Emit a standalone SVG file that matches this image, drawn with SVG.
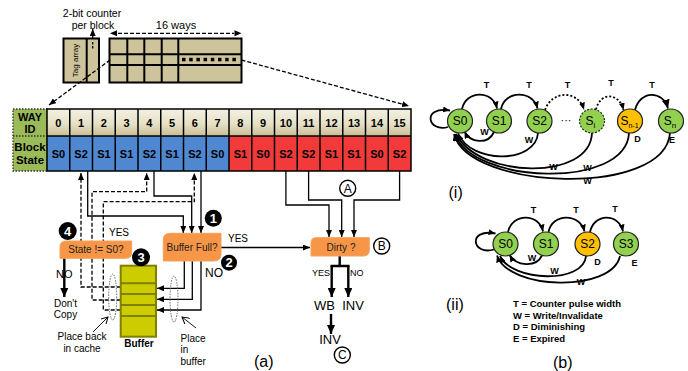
<svg xmlns="http://www.w3.org/2000/svg" width="688" height="371" viewBox="0 0 688 371">
  <style>
    text { font-family: "Liberation Sans", Arial, sans-serif; fill: #000; }
    .b { font-weight: bold; }
    .cell { stroke: #000; stroke-width: 1.5; }
    .hdr { fill: url(#hdrGrad); }
    .blue { fill: #4f88d0; }
    .red { fill: #f23a3a; }
    .num { font-size: 11px; font-weight: bold; text-anchor: middle; }
    .ln { fill: none; stroke: #000; stroke-width: 1.3; }
    .dash { fill: none; stroke: #000; stroke-width: 1.3; stroke-dasharray: 4 2; }
    .thick { fill: none; stroke: #000; stroke-width: 2.4; }
    .dec { fill: #f79646; stroke: #f4a15c; stroke-width: 1; }
    .dt { font-size: 10px; text-anchor: middle; fill: #222; }
    .badge { fill: #000; }
    .bt { fill: #fff; font-size: 13px; font-weight: bold; text-anchor: middle; }
    .circ { fill: none; stroke: #000; stroke-width: 1.4; }
    .ct { font-size: 12px; text-anchor: middle; }
    .tag { fill: #cec49b; stroke: #000; stroke-width: 2; }
    .node { fill: #92d050; stroke: #222; stroke-width: 1.2; }
    .nodeo { fill: #ffc000; stroke: #222; stroke-width: 1.2; }
    .nt { font-size: 12px; text-anchor: middle; }
    .arc { fill: none; stroke: #000; stroke-width: 1.8; }
    .arcd { fill: none; stroke: #000; stroke-width: 1.8; stroke-dasharray: 2 2; }
    .lab { font-size: 9px; font-weight: bold; text-anchor: middle; }
    .leg { font-size: 9.5px; font-weight: bold; }
    .cap { font-size: 16px; }
  </style>
  <defs>
    <linearGradient id="hdrGrad" x1="0" y1="0" x2="0" y2="1">
      <stop offset="0" stop-color="#f4f1e3"/>
      <stop offset="0.55" stop-color="#e6e0c6"/>
      <stop offset="1" stop-color="#c8be96"/>
    </linearGradient>
    <marker id="ah" markerUnits="userSpaceOnUse" markerWidth="7" markerHeight="6" refX="7" refY="3" orient="auto">
      <path d="M0,0 L7,3 L0,6 z" fill="#000"/>
    </marker>
    <marker id="ahL" markerUnits="userSpaceOnUse" markerWidth="9" markerHeight="8" refX="9" refY="4" orient="auto">
      <path d="M0,0 L9,4 L0,8 z" fill="#000"/>
    </marker>
    <marker id="ahO" markerUnits="userSpaceOnUse" markerWidth="8" markerHeight="8" refX="7" refY="4" orient="auto">
      <path d="M0,0 L7,4 L0,8" fill="none" stroke="#000" stroke-width="1"/>
    </marker>
  </defs>

  <!-- cache set: tag array and 16-way data array -->
  <g id="tag-array">
    <rect class="tag" x="63.5" y="38.5" width="35.5" height="44"/>
    <line x1="86.7" y1="38.5" x2="86.7" y2="82.5" stroke="#000" stroke-width="2"/>
    <line x1="92.7" y1="42" x2="92.7" y2="49" stroke="#000" stroke-width="1.3" stroke-dasharray="2.5 1.5"/>
    <text x="78" y="60.5" font-size="8" text-anchor="middle" transform="rotate(-90 78 60.5)">Tag array</text>
  </g>
  <g id="counter-label">
    <text x="92" y="17" font-size="10.5" text-anchor="middle">2-bit counter</text>
    <text x="93" y="28.5" font-size="10.5" text-anchor="middle">per block</text>
    <line x1="92.7" y1="38" x2="92.7" y2="29" class="ln" marker-end="url(#ah)"/>
  </g>
  <g id="data-array">
    <rect class="tag" x="109.5" y="38.5" width="132" height="44"/>
    <line x1="109.5" y1="54.3" x2="241.5" y2="54.3" stroke="#000" stroke-width="2"/>
    <line x1="109.5" y1="65" x2="241.5" y2="65" stroke="#000" stroke-width="2"/>
    <g stroke="#000" stroke-width="2">
      <line x1="127.3" y1="38.5" x2="127.3" y2="82.5"/>
      <line x1="144.3" y1="38.5" x2="144.3" y2="82.5"/>
      <line x1="161.7" y1="38.5" x2="161.7" y2="82.5"/>
      <line x1="178.3" y1="38.5" x2="178.3" y2="82.5"/>
    </g>
    <g fill="#000">
      <rect x="182" y="57.8" width="3.5" height="3.5"/>
      <rect x="189.2" y="57.8" width="3.5" height="3.5"/>
      <rect x="196.4" y="57.8" width="3.5" height="3.5"/>
      <rect x="203.6" y="57.8" width="3.5" height="3.5"/>
      <rect x="210.8" y="57.8" width="3.5" height="3.5"/>
      <rect x="218" y="57.8" width="3.5" height="3.5"/>
      <rect x="225.2" y="57.8" width="3.5" height="3.5"/>
      <rect x="232.4" y="57.8" width="3.5" height="3.5"/>
    </g>
    <text x="176" y="29" font-size="11" text-anchor="middle">16 ways</text>
    <line x1="118" y1="33.3" x2="234" y2="33.3" class="dash"/>
    <path d="M110,33.3 l7,-3 v6 z M241.5,33.3 l-7,-3 v6 z" fill="#000"/>
  </g>

  <!-- expansion of one set into the way table -->
  <g id="zoom-lines">
    <line x1="110" y1="60" x2="49" y2="105" class="dash" marker-end="url(#ah)"/>
    <line x1="241.5" y1="60" x2="409" y2="106" class="dash" marker-end="url(#ah)"/>
  </g>

  <!-- way table -->
  <g id="way-table">
    <rect x="13" y="109" width="34" height="62" fill="#9bbb59" stroke="#333" stroke-width="1.3" stroke-dasharray="1.5 1.5"/>
    <line x1="13" y1="136" x2="47" y2="136" stroke="#333" stroke-width="1.3" stroke-dasharray="1.5 1.5"/>
    <text x="30" y="120.5" font-size="11" class="b" text-anchor="middle">WAY</text>
    <text x="30" y="132.5" font-size="11" class="b" text-anchor="middle">ID</text>
    <text x="30" y="151" font-size="11.5" class="b" text-anchor="middle">Block</text>
    <text x="30" y="164" font-size="11.5" class="b" text-anchor="middle">State</text>

    <rect class="hdr" x="47" y="109" width="364" height="27"/>
    <rect class="blue" x="47" y="136" width="182" height="35"/>
    <rect class="red" x="229" y="136" width="182" height="35"/>
    <g class="cell" fill="none">
      <rect x="47" y="109" width="364" height="62"/>
      <line x1="47" y1="136" x2="411" y2="136"/>
      <line x1="69.75" y1="109" x2="69.75" y2="171"/>
      <line x1="92.5" y1="109" x2="92.5" y2="171"/>
      <line x1="115.25" y1="109" x2="115.25" y2="171"/>
      <line x1="138" y1="109" x2="138" y2="171"/>
      <line x1="160.75" y1="109" x2="160.75" y2="171"/>
      <line x1="183.5" y1="109" x2="183.5" y2="171"/>
      <line x1="206.25" y1="109" x2="206.25" y2="171"/>
      <line x1="229" y1="109" x2="229" y2="171"/>
      <line x1="251.75" y1="109" x2="251.75" y2="171"/>
      <line x1="274.5" y1="109" x2="274.5" y2="171"/>
      <line x1="297.25" y1="109" x2="297.25" y2="171"/>
      <line x1="320" y1="109" x2="320" y2="171"/>
      <line x1="342.75" y1="109" x2="342.75" y2="171"/>
      <line x1="365.5" y1="109" x2="365.5" y2="171"/>
      <line x1="388.25" y1="109" x2="388.25" y2="171"/>
    </g>
    <g class="num">
      <text x="58.4" y="127">0</text><text x="81.1" y="127">1</text><text x="103.9" y="127">2</text><text x="126.6" y="127">3</text>
      <text x="149.4" y="127">4</text><text x="172.1" y="127">5</text><text x="194.9" y="127">6</text><text x="217.6" y="127">7</text>
      <text x="240.4" y="127">8</text><text x="263.1" y="127">9</text><text x="285.9" y="127">10</text><text x="308.6" y="127">11</text>
      <text x="331.4" y="127">12</text><text x="354.1" y="127">13</text><text x="376.9" y="127">14</text><text x="399.6" y="127">15</text>
      <text x="58.4" y="158">S0</text><text x="81.1" y="158">S2</text><text x="103.9" y="158">S1</text><text x="126.6" y="158">S1</text>
      <text x="149.4" y="158">S2</text><text x="172.1" y="158">S1</text><text x="194.9" y="158">S2</text><text x="217.6" y="158">S0</text>
      <text x="240.4" y="158">S1</text><text x="263.1" y="158">S0</text><text x="285.9" y="158">S2</text><text x="308.6" y="158">S2</text>
      <text x="331.4" y="158">S1</text><text x="354.1" y="158">S1</text><text x="376.9" y="158">S0</text><text x="399.6" y="158">S2</text>
    </g>
  </g>

  <!-- connectors of the eviction flow -->
  <g id="connectors">
    <path class="ln" d="M87.7,171 V216 H183.3 V233" marker-end="url(#ah)"/>
    <path class="ln" d="M154,171 V196 H191.7 V233" marker-end="url(#ah)"/>
    <path class="ln" d="M201,171 V233" marker-end="url(#ah)"/>

    <path class="dash" d="M120.7,287 H81 V173" marker-end="url(#ah)"/>
    <path class="dash" d="M120.7,300 H92 V191.7 H146.7 V173" marker-end="url(#ah)"/>
    <path class="dash" d="M120.7,310 H103.3 V201.7 H194.3 V173" marker-end="url(#ah)"/>

    <path class="ln" stroke-width="2" d="M184.3,261 V288.3 H157" marker-end="url(#ah)"/>
    <path class="ln" d="M192.3,261 V299.3 H157" marker-end="url(#ah)"/>
    <path class="ln" d="M201,261 V310 H157" marker-end="url(#ah)"/>

    <path class="ln" stroke-width="1.6" d="M221,247.5 H310" marker-end="url(#ah)"/>
    <path class="thick" d="M64.3,258 V297" marker-end="url(#ahL)"/>

    <path class="ln" d="M285.9,171 V205 H329 V237" marker-end="url(#ah)"/>
    <path class="ln" d="M308.6,171 V200 H341.7 V237" marker-end="url(#ah)"/>
    <path class="ln" d="M399.6,171 V200 H354 V237" marker-end="url(#ah)"/>

    <path class="thick" stroke-width="3" d="M339.7,256 V266 M330.5,266 H349.5"/>
    <path class="thick" d="M331.7,266 V297" marker-end="url(#ahL)"/>
    <path class="thick" d="M348.3,266 V297" marker-end="url(#ahL)"/>
    <path class="thick" d="M331,314 V334" marker-end="url(#ahL)"/>

    <ellipse cx="112.7" cy="297" rx="4" ry="23" fill="none" stroke="#555" stroke-width="0.9" stroke-dasharray="1.5 1.2"/>
    <ellipse cx="174" cy="299" rx="4" ry="23" fill="none" stroke="#555" stroke-width="0.9" stroke-dasharray="1.5 1.2"/>
    <line x1="93" y1="332" x2="108" y2="317" stroke="#000" stroke-width="0.9" marker-end="url(#ahO)"/>
    <line x1="196" y1="328" x2="182" y2="317" stroke="#000" stroke-width="0.9" marker-end="url(#ahO)"/>
  </g>

  <!-- decision: State != S0? -->
  <g id="state-check">
    <path class="dec" d="M66,241 H131.7 V252.3 Q131.7,258.3 125.7,258.3 H60 V247 Q60,241 66,241 Z"/>
    <text class="dt" x="96" y="253">State != S0?</text>
    <text x="109" y="236" font-size="10" fill="#222">YES</text>
    <text x="56" y="277.5" font-size="11" fill="#222">NO</text>
    <text x="65.5" y="306.5" font-size="10" text-anchor="middle" fill="#222">Don't</text>
    <text x="65.5" y="318" font-size="10" text-anchor="middle" fill="#222">Copy</text>
    <circle class="badge" cx="67.7" cy="231" r="9"/>
    <text class="bt" x="67.7" y="235.8">4</text>
  </g>

  <!-- decision: Buffer Full? -->
  <g id="buffer-full">
    <path class="dec" d="M170,233.3 H221 V254 Q221,261 214,261 H163.3 V240 Q163.3,233.3 170,233.3 Z"/>
    <text class="dt" x="192" y="251">Buffer Full?</text>
    <text x="228" y="242" font-size="10" fill="#222">YES</text>
    <text x="205" y="276.5" font-size="12" fill="#222">NO</text>
    <circle class="badge" cx="213.3" cy="218.3" r="8.5"/>
    <text class="bt" x="213.3" y="223">1</text>
    <circle class="badge" cx="229" cy="262.7" r="8"/>
    <text class="bt" x="229" y="267.3">2</text>
  </g>

  <!-- buffer -->
  <g id="buffer">
    <rect x="120.7" y="265.7" width="35.3" height="71" fill="#cccc00" stroke="#7f7f00" stroke-width="2"/>
    <g stroke="#7f7f00" stroke-width="2">
      <line x1="120.7" y1="283.3" x2="156" y2="283.3"/>
      <line x1="120.7" y1="294" x2="156" y2="294"/>
      <line x1="120.7" y1="305" x2="156" y2="305"/>
      <line x1="120.7" y1="316" x2="156" y2="316"/>
    </g>
    <text x="139" y="346.5" font-size="10" class="b" text-anchor="middle">Buffer</text>
    <circle class="badge" cx="141" cy="257.3" r="9"/>
    <text class="bt" x="141" y="262">3</text>
  </g>

  <g id="place-labels">
    <text x="82" y="340" font-size="10" text-anchor="middle" fill="#222">Place back</text>
    <text x="82" y="351.7" font-size="10" text-anchor="middle" fill="#222">in cache</text>
    <text x="180.5" y="341.5" font-size="10" fill="#222">Place</text>
    <text x="180.5" y="353" font-size="10" fill="#222">in</text>
    <text x="180.5" y="364.5" font-size="10" fill="#222">buffer</text>
  </g>

  <!-- decision: Dirty ? -->
  <g id="dirty-check">
    <path class="dec" d="M316,237.7 H369.3 V250 Q369.3,256 363.3,256 H311 V243 Q311,237.7 316,237.7 Z"/>
    <text class="dt" x="341" y="250.5">Dirty ?</text>
    <text x="312" y="276" font-size="9" fill="#222">YES</text>
    <text x="350" y="276" font-size="9" fill="#222">NO</text>
    <text x="324.5" y="310" font-size="13" text-anchor="middle" fill="#222">WB</text>
    <text x="353" y="310" font-size="13" text-anchor="middle" fill="#222">INV</text>
    <text x="330" y="343.5" font-size="13" text-anchor="middle" fill="#222">INV</text>
  </g>

  <g id="step-A">
    <circle class="circ" cx="347.7" cy="188.3" r="8"/>
    <text class="ct" x="347.7" y="192.6">A</text>
  </g>
  <g id="step-B">
    <circle class="circ" cx="381.7" cy="246" r="8"/>
    <text class="ct" x="381.7" y="250.3">B</text>
  </g>
  <g id="step-C">
    <circle class="circ" cx="342.3" cy="355" r="8"/>
    <text class="ct" x="342.3" y="359.3">C</text>
  </g>

  <text x="254" y="366.5" class="cap" font-size="17">(a)</text>

  <!-- (i) general counter state machine -->
  <g id="fsm-n-edges">
    <path class="arc" d="M448,127 C428,133 421,106 450,110.5" marker-end="url(#ah)"/>
    <path class="arc" d="M462,109 C466,90 493,90 497,108.5" marker-end="url(#ah)"/>
    <path class="arc" d="M501,109 C505,90 533,90 537.5,108.5" marker-end="url(#ah)"/>
    <path class="arcd" d="M545,110 C552,90 578,90 584,109.5" marker-end="url(#ah)"/>
    <path class="arcd" d="M596,109.5 C600,92 619,92 623.5,110" marker-end="url(#ah)"/>
    <path class="arc" d="M635,110 C640,90 663,90 668,108.5" marker-end="url(#ahL)"/>
    <path class="arc" d="M494,132 C488,145 470,143 464.5,131.5" marker-end="url(#ah)"/>
    <path class="arc" d="M538,133 C536,163 472,165 458,133.5" marker-end="url(#ah)"/>
    <path class="arc" stroke-width="2" d="M592,133 C590,182 478,178 456,134" marker-end="url(#ah)"/>
    <path class="arc" stroke-width="2" d="M629,133 C626,190 472,184 455,134" marker-end="url(#ah)"/>
    <path class="arc" stroke-width="2" d="M670,133 C665,198 468,190 454,134" marker-end="url(#ah)"/>
  </g>
  <g id="fsm-n-labels">
    <text class="lab" x="486.5" y="88">T</text>
    <text class="lab" x="529" y="88">T</text>
    <text class="lab" x="567.5" y="88">T</text>
    <text class="lab" x="611" y="86">T</text>
    <text class="lab" x="652" y="88">T</text>
    <text class="lab" x="484.5" y="135">W</text>
    <text class="lab" x="529" y="142.5">W</text>
    <text class="lab" x="553.5" y="170">W</text>
    <text class="lab" x="587.5" y="171">W</text>
    <text class="lab" x="587.5" y="184">W</text>
    <text class="lab" x="637.5" y="141.5">D</text>
    <text class="lab" x="672" y="143">E</text>
  </g>
  <g id="n-S0"><ellipse class="node" cx="460" cy="121" rx="12.5" ry="12"/><text class="nt" x="460" y="125.2">S0</text></g>
  <g id="n-S1"><ellipse class="node" cx="499" cy="121" rx="12.5" ry="12"/><text class="nt" x="499" y="125.2">S1</text></g>
  <g id="n-S2"><ellipse class="node" cx="539.5" cy="121" rx="12.5" ry="12"/><text class="nt" x="539.5" y="125.2">S2</text></g>
  <text x="566" y="124" font-size="11" text-anchor="middle">···</text>
  <g id="n-Si"><ellipse class="node" cx="592" cy="121" rx="12.5" ry="12" stroke-dasharray="2 1.5"/><text class="nt" x="590.5" y="125.2">S<tspan font-size="8" dy="3">i</tspan></text></g>
  <g id="n-Sn1"><ellipse class="nodeo" cx="630" cy="121" rx="12.5" ry="12"/><text x="629.5" y="125.2" font-size="12" text-anchor="middle">S<tspan font-size="7" dy="2.5">n-1</tspan></text></g>
  <g id="n-Sn"><ellipse class="node" cx="671" cy="121" rx="12.5" ry="12"/><text class="nt" x="670" y="125.2">S<tspan font-size="8" dy="3">n</tspan></text></g>
  <text x="448.5" y="198" class="cap" font-size="15">(i)</text>

  <!-- (ii) 2-bit counter state machine -->
  <g id="fsm-4-edges">
    <path class="arc" d="M494,249.5 C472,256 467,228 495.5,233.5" marker-end="url(#ah)"/>
    <path class="arc" d="M508,232 C512,213 539,213 543,231.5" marker-end="url(#ah)"/>
    <path class="arc" d="M548.5,232 C552,213 580,213 584.5,231.5" marker-end="url(#ah)"/>
    <path class="arc" d="M590,232 C594,213 619,213 623,231.5" marker-end="url(#ah)"/>
    <path class="arc" d="M542,255.5 C536,268 516,266 509.5,255" marker-end="url(#ah)"/>
    <path class="arc" d="M586,256 C584,284 512,282 500,256" marker-end="url(#ah)"/>
    <path class="arc" d="M620,256 C612,293 508,290 497,255.5" marker-end="url(#ah)"/>
  </g>
  <g id="fsm-4-labels">
    <text class="lab" x="533.5" y="212.5">T</text>
    <text class="lab" x="576" y="212.5">T</text>
    <text class="lab" x="615" y="211.5">T</text>
    <text class="lab" x="532" y="260.5">W</text>
    <text class="lab" x="554.5" y="274">W</text>
    <text class="lab" x="581" y="284.5">W</text>
    <text class="lab" x="597.5" y="265">D</text>
    <text class="lab" x="634.5" y="266">E</text>
  </g>
  <g id="m-S0"><ellipse class="node" cx="505.5" cy="244" rx="12.5" ry="12"/><text class="nt" x="505.5" y="248.2">S0</text></g>
  <g id="m-S1"><ellipse class="node" cx="546" cy="244" rx="12.5" ry="12"/><text class="nt" x="546" y="248.2">S1</text></g>
  <g id="m-S2"><ellipse class="nodeo" cx="587.5" cy="244" rx="12.5" ry="12"/><text class="nt" x="587.5" y="248.2">S2</text></g>
  <g id="m-S3"><ellipse class="node" cx="626" cy="244" rx="12.5" ry="12"/><text class="nt" x="626" y="248.2">S3</text></g>
  <text x="446" y="310" class="cap" font-size="15">(ii)</text>

  <g id="legend" xml:space="preserve">
    <text class="leg" x="513" y="307">T  = Counter pulse width</text>
    <text class="leg" x="513" y="318.5">W = Write/Invalidate</text>
    <text class="leg" x="513" y="330">D  = Diminishing</text>
    <text class="leg" x="513" y="341.5">E  = Expired</text>
  </g>
  <text x="553" y="367.5" class="cap" font-size="17">(b)</text>
</svg>
